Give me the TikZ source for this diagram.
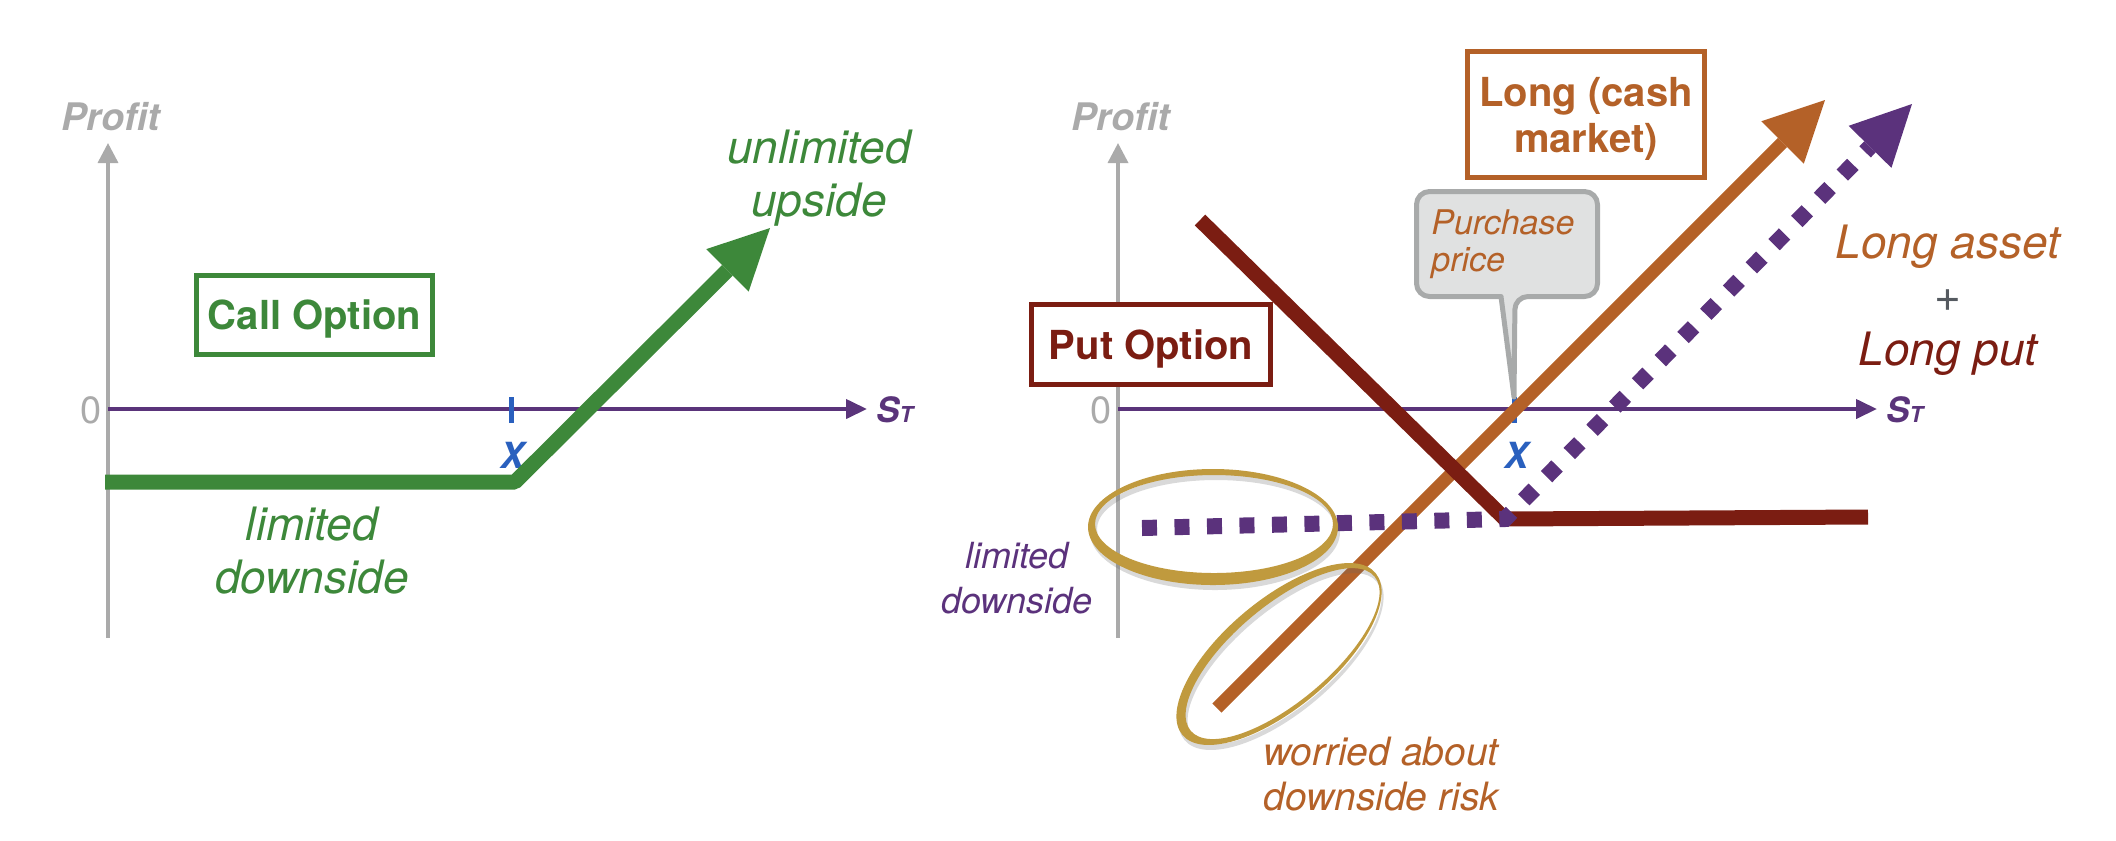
\documentclass[tikz,border=0pt]{standalone}
\usepackage{fontspec}
\setmainfont{TeX Gyre Heros}
\usepackage{tikz}
\usetikzlibrary{arrows.meta}
\usetikzlibrary{calc}
\definecolor{callgreen}{RGB}{61,136,58}
\definecolor{axispurple}{RGB}{90,52,122}
\definecolor{dotpurple}{RGB}{91,50,124}
\definecolor{axisgray}{RGB}{170,170,170}
\definecolor{tickblue}{RGB}{42,96,190}
\definecolor{putred}{RGB}{123,29,18}
\definecolor{longorange}{RGB}{180,97,40}
\definecolor{ringgold}{RGB}{192,154,62}
\definecolor{calloutfill}{RGB}{224,225,225}
\definecolor{calloutline}{RGB}{168,170,170}
\definecolor{plusgray}{RGB}{85,90,96}
\tikzset{
  profitaxis/.style={axisgray, line width=0.07cm, -{Triangle[length=0.4cm, width=0.4cm]}},
  saxis/.style={axispurple, line width=0.08cm, -{Triangle[length=0.42cm, width=0.38cm]}},
  tickmark/.style={tickblue, line width=0.1cm},
  payoff/.style={line width=0.3cm, line join=bevel},
  bighead/.style={-{Triangle[length=1.2cm, width=1.2cm, line width=0pt]}},
  hedged/.style={dotpurple, line width=0.32cm, dash pattern=on 0.3cm off 0.35cm},
  callout/.style={fill=calloutfill, draw=calloutline, line width=0.1cm, line join=round},
  boxlabel/.style={draw, fill=white, line width=0.1cm, inner sep=0pt, align=center, text depth=0pt,
    font=\fontsize{22.76pt}{26.18pt}\selectfont\bfseries},
  axislabel/.style={inner sep=0pt, axisgray, font=\fontsize{21.6pt}{24pt}\selectfont\bfseries\itshape},
  zerolabel/.style={inner sep=0pt, axisgray, font=\fontsize{21.6pt}{24pt}\selectfont},
  slabel/.style={inner sep=0pt, axispurple, font=\fontsize{19.9pt}{22pt}\selectfont\bfseries\itshape},
  strikelabel/.style={inner sep=0pt, tickblue, font=\fontsize{20.5pt}{22pt}\selectfont\bfseries\itshape},
  bignote/.style={inner sep=0pt, align=center, font=\fontsize{26.2pt}{30.2pt}\selectfont\itshape},
  midnote/.style={inner sep=0pt, align=left, font=\fontsize{22.2pt}{25.6pt}\selectfont\itshape},
  smallnote/.style={inner sep=0pt, align=center, font=\fontsize{20.5pt}{25.6pt}\selectfont\itshape},
  tinynote/.style={inner sep=0pt, align=left, font=\fontsize{19.35pt}{21.06pt}\selectfont\itshape},
  ringshadow/.style={fill=black!60, opacity=0.25}
}
\newcommand{\payoffaxes}[2]{
  \coordinate (origin#2) at (#1,409);
  \coordinate (ptop#2) at (#1,143);
  \coordinate (pbot#2) at (#1,638);
  \coordinate (send#2) at ({#1+759},409);
  \draw[profitaxis] (pbot#2) -- (ptop#2);
  \draw[saxis] (origin#2) -- (send#2);
  \node[axislabel, anchor=base] (profit#2) at ({#1+3},130) {Profit};
  \node[zerolabel, anchor=base] (zero#2) at ({#1-17},423) {0};
  \node[slabel, anchor=base west] (st#2) at ({#1+768},422) {S{\fontsize{12.5pt}{13pt}\selectfont T}};
}
\newcommand{\strikemark}[2]{
  \coordinate (xtop#2) at (#1,397);
  \coordinate (xbot#2) at (#1,423);
  \draw[tickmark] (xtop#2) -- (xbot#2);
  \node[strikelabel, anchor=base] (x#2) at ({#1+2},468) {X};
}

\begin{document}
\begin{tikzpicture}[x=0.02cm, y=-0.02cm]
        \useasboundingbox (0,0) rectangle (2116,840);
        % left panel
        \payoffaxes{108}{l}
        \strikemark{511}{l}
        % call payoff
        \coordinate (callstart) at (105,482);
        \coordinate (callkink) at (515,482);
        \coordinate (calltip) at (770,228);
        \draw[payoff, bighead, callgreen] (callstart) -- (callkink) -- (calltip);
        \node[boxlabel, draw=callgreen, text=callgreen, minimum width=4.72cm, minimum height=1.58cm] (callbox) at (314.5,315) {Call Option};
        \node[bignote, callgreen, anchor=north] (upside) at (819,130) {unlimited\\upside};
        \node[bignote, callgreen, anchor=north] (downl) at (312,507) {limited\\downside};
        % right panel
        \payoffaxes{1118}{r}
        \strikemark{1514}{r}
        % long asset
        \coordinate (longstart) at (1217,708);
        \coordinate (longtip) at (1825,100);
        \draw[payoff, bighead, longorange, line width=0.26cm] (longstart) -- (longtip);
        % put payoff
        \coordinate (putstart) at (1200,220);
        \coordinate (kink) at (1505,519);
        \coordinate (putend) at (1868,517);
        \draw[payoff, putred] (putstart) -- (kink) -- (putend);
        % long asset + long put
        \coordinate (dotstart) at (1142,528);
        \coordinate (dottip) at (1912,104);
        \draw[hedged, bighead] (dotstart) -- (kink) -- (dottip);
        % rings
        \begin{scope}[shift={(1215,532)}]
          \fill[ringshadow, even odd rule] (0,0) ellipse (125 and 58) (1,-3) ellipse (119 and 49);
        \end{scope}
        \begin{scope}[shift={(1213,527)}]
          \fill[ringgold, even odd rule] (0,0) ellipse (125 and 58) (1,-3) ellipse (119 and 49);
        \end{scope}
        \begin{scope}[shift={(1281,659)}, rotate=40]
          \fill[ringshadow, even odd rule] (0,0) ellipse (126 and 54) (3,2) ellipse (120 and 48);
        \end{scope}
        \begin{scope}[shift={(1279,654)}, rotate=40]
          \fill[ringgold, even odd rule] (0,0) ellipse (126 and 54) (3,2) ellipse (120 and 48);
        \end{scope}
        % boxes
        \node[boxlabel, draw=putred, text=putred, minimum width=4.78cm, minimum height=1.6cm] (putbox) at (1151,344.5) {Put Option};
        \node[boxlabel, draw=longorange, text=longorange, minimum width=4.74cm, minimum height=2.52cm] (longbox) at (1586,114.5) {Long (cash\\market)};
        % purchase price callout
        \coordinate (calloutl) at (1501,296.5);
        \coordinate (calloutr) at (1515,296.5);
        \draw[callout] (calloutl) [rounded corners=0.26cm] -- (1416.5,296.5) -- (1416.5,191.5) -- (1597.5,191.5) -- (1597.5,296.5) -- (calloutr) [sharp corners] -- (xtopr) -- cycle;
        \node[tinynote, longorange, anchor=north west] (purchase) at (1431,209) {Purchase\\price};
        % labels
        \node[bignote, anchor=north] (combo) at (1948,225) {\textcolor{longorange}{Long asset}\\\textcolor{plusgray}{+}\\\textcolor{putred}{Long put}};
        \node[smallnote, dotpurple, anchor=north] (downr) at (1017,542) {limited\\downside};
        \node[midnote, longorange, anchor=north west] (worry) at (1263,737) {worried about\\downside risk};
\end{tikzpicture}
\end{document}
